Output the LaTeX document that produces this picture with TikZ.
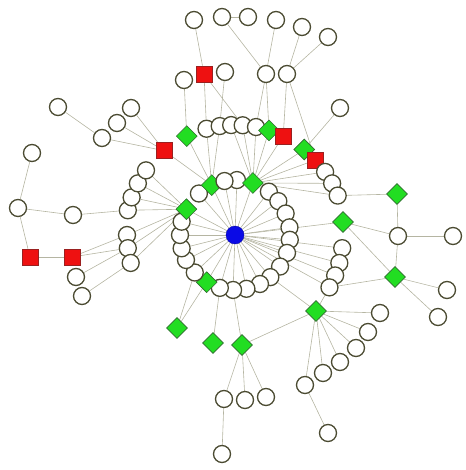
\documentclass[tikz,border=0pt]{standalone}
\usepackage{tikz}
\usetikzlibrary{shapes.geometric,backgrounds,calc}

\definecolor{nodeline}{HTML}{4B4B32}
\definecolor{edgegray}{HTML}{B5B5A2}
\definecolor{sqred}{HTML}{EE1111}
\definecolor{sqline}{HTML}{9A2020}
\definecolor{gdgreen}{HTML}{22DD22}
\definecolor{gdline}{HTML}{2E6B2E}
\definecolor{hubblue}{HTML}{0A0AE6}

\begin{document}
\begin{tikzpicture}[x=1pt,y=-1pt,
  dot/.style={circle,draw=nodeline,fill=white,line width=1.3pt,minimum size=17pt,inner sep=0pt},
  sq/.style={rectangle,draw=sqline,fill=sqred,line width=0.6pt,minimum size=16pt,inner sep=0pt},
  gd/.style={diamond,draw=gdline,fill=gdgreen,line width=0.6pt,minimum size=21pt,inner sep=0pt},
  hub/.style={circle,draw=hubblue!70!black,fill=hubblue,minimum size=18pt,inner sep=0pt},
  link/.style={draw=edgegray,line width=0.6pt}]
\useasboundingbox (0,0) rectangle (465,470);

% hub and rings
\node[hub] (c) at (235,235) {};
\foreach \a/\s [count=\k] in {88/dot,71/gd,52/dot,38/dot,23/dot,8/dot,-5/dot,-19/dot,-35/dot,-50/dot,-63/dot,-78/dot,
  -92/dot,-106/dot,-121/gd,-137/dot,-153/dot,-166/dot,180/dot,166/dot,152/gd,131/dot,115/gd,101/dot}
  \node[\s] (i\k) at ([shift={(\a:55pt)}]c) {};
\foreach \a/\s [count=\k] in {167/dot,160/dot,152/dot,144/dot,130/sq,116/gd,105/dot,98/dot,92/dot,86/dot,79/dot,
  72/gd,64/sq,51/gd,43/sq,35/dot,28/dot,21/dot}
  \node[\s] (u\k) at ([shift={(\a:110pt)}]c) {};
\foreach \a [count=\k] in {180,187,195}
  \node[dot] (l\k) at ([shift={(\a:108pt)}]c) {};
\foreach \a [count=\k] in {-7,-15,-22,-29}
  \node[dot] (r\k) at ([shift={(\a:108pt)}]c) {};

% top
\node[dot] (t1) at (194,20) {};
\node[dot] (t2) at (222,17) {};
\node[dot] (t3) at (248,17) {};
\node[dot] (t4) at (276,20) {};
\node[dot] (t5) at (302,27) {};
\node[dot] (t6) at (328,37) {};
\node[dot] (m1) at (184,80) {};
\node[sq] (m2) at (204,74) {};
\node[dot] (m3) at (225,72) {};
\node[dot] (m4) at (266,74) {};
\node[dot] (m5) at (287,74) {};
\node[dot] (ur) at (340,108) {};

% left
\node[dot] (a1) at (58,107) {};
\node[dot] (a2) at (131,108) {};
\node[dot] (a3) at (117,123) {};
\node[dot] (a4) at (102,138) {};
\node[dot] (b1) at (32,153) {};
\node[dot] (b2) at (18,208) {};
\node[dot] (b3) at (73,215) {};
\node[sq] (s1) at (30,257) {};
\node[sq] (s2) at (72,257) {};
\node[dot] (b4) at (76,277) {};
\node[dot] (b5) at (82,296) {};

% bottom
\node[gd] (g1) at (177,328) {};
\node[gd] (g2) at (213,343) {};
\node[gd] (g3) at (242,345) {};
\node[dot] (d1) at (224,399) {};
\node[dot] (d2) at (245,400) {};
\node[dot] (d3) at (266,397) {};
\node[dot] (d4) at (222,454) {};
\node[gd] (g4) at (316,311) {};
\node[dot] (e1) at (305,385) {};
\node[dot] (e2) at (323,373) {};
\node[dot] (e3) at (340,362) {};
\node[dot] (e4) at (356,348) {};
\node[dot] (e5) at (368,332) {};
\node[dot] (e6) at (380,313) {};
\node[dot] (e7) at (328,433) {};

% right
\node[gd] (g5) at (395,277) {};
\node[gd] (g6) at (397,194) {};
\node[gd] (g7) at (343,222) {};
\node[dot] (f1) at (398,236) {};
\node[dot] (f2) at (453,236) {};
\node[dot] (f3) at (447,290) {};
\node[dot] (f4) at (438,317) {};

\begin{scope}[on background layer]
\foreach \k in {1,...,24} \draw[link] (c) -- (i\k);
\foreach \k in {1,...,4} \draw[link] (c) -- (r\k);
\draw[link] (c) -- (g7);
\foreach \k in {1,...,4} \draw[link] (u\k) -- (i21);
\foreach \k in {1,...,3} \draw[link] (l\k) -- (i21);
\foreach \k in {5,...,8} \draw[link] (u\k) -- (i23);
\foreach \k in {9,...,18} \draw[link] (u\k) -- (i2);
\foreach \n in {a2,a3,a4} \draw[link] (\n) -- (u5);
\draw[link] (a1) -- (a4);
\draw[link] (b1) -- (b2);
\draw[link] (b2) -- (b3);
\draw[link] (b3) -- (u1);
\draw[link] (b2) -- (s1);
\draw[link] (s1) -- (s2);
\draw[link] (s2) -- (l1);
\draw[link] (s2) -- (l2);
\draw[link] (b4) -- (l2);
\draw[link] (b5) -- (l3);
\draw[link] (t1) -- (m2);
\draw[link] (t2) -- (t3);
\draw[link] (t2) -- (m4);
\draw[link] (t4) -- (m4);
\draw[link] (t5) -- (m5);
\draw[link] (t6) -- (m5);
\draw[link] (m1) -- (u6);
\draw[link] (m2) -- (u7);
\draw[link] (m2) -- (u10);
\draw[link] (m3) -- (u8);
\draw[link] (m4) -- (u11);
\draw[link] (m4) -- (u12);
\draw[link] (m5) -- (u13);
\draw[link] (m5) -- (u15);
\draw[link] (ur) -- (u14);
\draw[link] (g1) -- (i15);
\draw[link] (g1) -- (i16);
\draw[link] (g2) -- (i14);
\draw[link] (g3) -- (i13);
\draw[link] (g3) -- (g4);
\foreach \n in {d1,d2,d3} \draw[link] (g3) -- (\n);
\draw[link] (d1) -- (d4);
\foreach \n in {e1,e2,e3,e4,e5,e6} \draw[link] (g4) -- (\n);
\draw[link] (e1) -- (e7);
\draw[link] (g4) -- (r4);
\draw[link] (g4) -- (i10);
\draw[link] (g5) -- (r4);
\foreach \n in {f1,f3,f4,g7} \draw[link] (g5) -- (\n);
\draw[link] (f1) -- (f2);
\draw[link] (f1) -- (g6);
\draw[link] (f1) -- (g7);
\draw[link] (g6) -- (u18);
\end{scope}
\end{tikzpicture}
\end{document}
